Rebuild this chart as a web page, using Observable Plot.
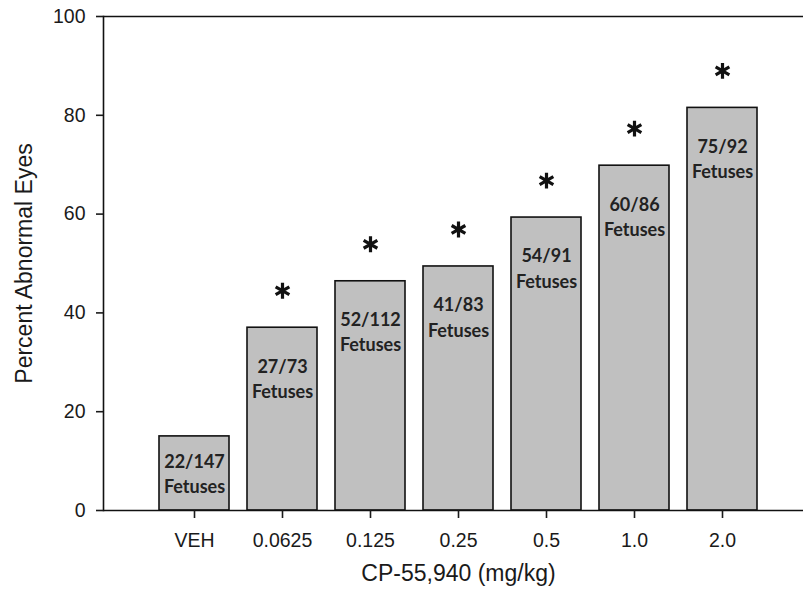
<!DOCTYPE html>
<html>
<head>
<meta charset="utf-8">
<script src="https://cdn.jsdelivr.net/npm/d3@7"></script>
<script src="https://cdn.jsdelivr.net/npm/@observablehq/plot@0.6"></script>
<style>
  html, body { margin: 0; padding: 0; background: white; overflow: hidden; }
  #chart { width: 803px; height: 597px; overflow: hidden; }
</style>
</head>
<body>
<div id="chart"></div>
<script>
const doses = ["VEH", "0.0625", "0.125", "0.25", "0.5", "1.0", "2.0"];
const percent = [15.0, 37.0, 46.4, 49.4, 59.3, 69.8, 81.5];
const counts = ["22/147", "27/73", "52/112", "41/83", "54/91", "60/86", "75/92"];
const significant = [false, true, true, true, true, true, true];
const yTicks = [0, 20, 40, 60, 80, 100];
const xTitle = "CP-55,940 (mg/kg)";
const yTitle = "Percent Abnormal Eyes";

const data = doses.map((d, i) => ({dose: d, pct: percent[i], label: counts[i] + "\nFetuses", sig: significant[i]}));
const labelStyle = {x: "dose", y: "pct", text: "label", lineAnchor: "top", fontFamily: "Lato, sans-serif", fontWeight: "bold", fontSize: 18, lineHeight: 1.4, fill: "#222"};

const chart = Plot.plot({
  width: 803,
  height: 597,
  marginLeft: 103,
  marginRight: -10,
  marginTop: 16,
  marginBottom: 87,
  style: {fontFamily: "'Liberation Sans', Arial, sans-serif", color: "#1a1a1a", background: "white"},
  x: {domain: doses, paddingInner: 0.2, paddingOuter: 0.6, align: 0.5},
  y: {domain: [0, 100]},
  marks: [
    Plot.barY(data, {x: "dose", y: "pct", fill: "#c0c0c0", stroke: "#111", strokeWidth: 1.6}),
    Plot.ruleY([0, 100], {stroke: "#111", strokeWidth: 1.6}),
    Plot.frame({anchor: "left", stroke: "#111", strokeWidth: 1.6}),
    Plot.axisY({ticks: yTicks, tickSize: 7, tickPadding: 11, fontSize: 19.5, label: null, strokeWidth: 1.6}),
    Plot.axisX({tickSize: 8, tickPadding: 15, fontSize: 19.5, label: null, strokeWidth: 1.6}),
    Plot.text(data.filter(d => d.pct >= 20), {...labelStyle, dy: 27}),
    Plot.text(data.filter(d => d.pct < 20), {...labelStyle, dy: 14}),
    Plot.dot(data.filter(d => d.sig), {x: "dose", y: "pct", dy: -37, symbol: "asterisk", r: 7.5, stroke: "#111", strokeWidth: 3.2}),
    Plot.text([xTitle], {frameAnchor: "bottom", dy: 70, fontSize: 23, fill: "#1a1a1a"}),
    Plot.text([yTitle], {frameAnchor: "left", textAnchor: "middle", dx: -79, rotate: -90, fontSize: 23, fill: "#1a1a1a"})
  ]
});
document.getElementById("chart").appendChild(chart);
</script>
</body>
</html>
